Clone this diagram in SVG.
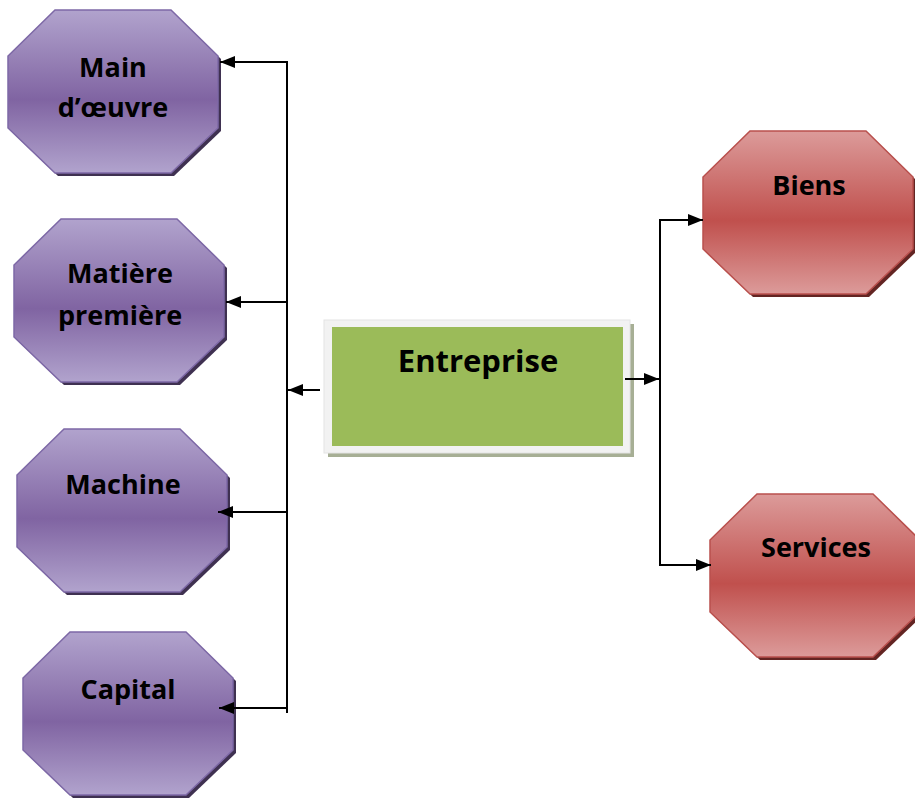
<svg xmlns="http://www.w3.org/2000/svg" width="915" height="799" viewBox="0 0 915 799">
<style>
.lbl{font-family:"Open Sans","Liberation Sans",sans-serif;font-weight:bold;font-size:27px;fill:#000;text-anchor:middle}
.big{font-size:31px}
.conn{stroke:#000;stroke-width:2;fill:none}
.purple{fill:url(#gp);stroke:#7d68a6;stroke-width:1.5}
.pshadow{fill:#3f3151}
.red{fill:url(#gr);stroke:#b9504d;stroke-width:1.5}
.rshadow{fill:#632523}
</style>
<defs>
<linearGradient id="gp" x1="0" y1="0" x2="0" y2="1">
<stop offset="0" stop-color="#b1a3cd"/>
<stop offset="0.55" stop-color="#8064a2"/>
<stop offset="1" stop-color="#b1a3cd"/>
</linearGradient>
<linearGradient id="gr" x1="0" y1="0" x2="0" y2="1">
<stop offset="0" stop-color="#dc9b9a"/>
<stop offset="0.55" stop-color="#c0504d"/>
<stop offset="1" stop-color="#dc9b9a"/>
</linearGradient>
<path id="oct" d="M47,0 H163 L210,46 V118 L163,163 H47 L0,118 V46 Z"/>
<marker id="arr" viewBox="0 0 15 12" refX="15" refY="6" markerWidth="15" markerHeight="12" markerUnits="userSpaceOnUse" orient="auto">
<path d="M0,0 L15,6 L0,12 Z" fill="#000"/>
</marker>
</defs>

<g id="main-oeuvre" transform="translate(8,10)">
<use href="#oct" class="pshadow" transform="translate(3,3)"/>
<use href="#oct" class="purple"/>
<text class="lbl" x="105" y="67">Main</text>
<text class="lbl" x="105" y="107">d’œuvre</text>
</g>

<g id="matiere-premiere" transform="translate(14,219)">
<use href="#oct" class="pshadow" transform="translate(3,3)"/>
<use href="#oct" class="purple"/>
<text class="lbl" x="106" y="64">Matière</text>
<text class="lbl" x="106" y="106">première</text>
</g>

<g id="machine" transform="translate(17,429)">
<use href="#oct" class="pshadow" transform="translate(3,3)"/>
<use href="#oct" class="purple"/>
<text class="lbl" x="106" y="65">Machine</text>
</g>

<g id="capital" transform="translate(23,632)">
<use href="#oct" class="pshadow" transform="translate(3,3)"/>
<use href="#oct" class="purple"/>
<text class="lbl" x="105" y="67">Capital</text>
</g>

<g id="entreprise">
<rect x="328" y="324" width="306" height="133" fill="#a7af95"/>
<rect x="324" y="320" width="306" height="133" fill="#f2f2f2" stroke="#e4e4e4" stroke-width="1"/>
<rect x="332" y="327" width="291" height="119" fill="#9bbb59"/>
<text class="lbl big" x="478" y="372">Entreprise</text>
</g>

<g id="biens" transform="translate(703,131)">
<use href="#oct" class="rshadow" transform="translate(3,3)"/>
<use href="#oct" class="red"/>
<text class="lbl" x="106" y="64">Biens</text>
</g>

<g id="services" transform="translate(710,494)">
<use href="#oct" class="rshadow" transform="translate(3,3)"/>
<use href="#oct" class="red"/>
<text class="lbl" x="106" y="63">Services</text>
</g>

<g id="connectors">
<line class="conn" x1="287" y1="61" x2="287" y2="713"/>
<line class="conn" x1="287" y1="62" x2="220" y2="62" marker-end="url(#arr)"/>
<line class="conn" x1="287" y1="302" x2="226" y2="302" marker-end="url(#arr)"/>
<line class="conn" x1="287" y1="512" x2="218" y2="512" marker-end="url(#arr)"/>
<line class="conn" x1="287" y1="708" x2="219" y2="708" marker-end="url(#arr)"/>
<line class="conn" x1="320" y1="390" x2="288" y2="390" marker-end="url(#arr)"/>
<line class="conn" x1="660" y1="219" x2="660" y2="566"/>
<line class="conn" x1="625" y1="379" x2="659" y2="379" marker-end="url(#arr)"/>
<line class="conn" x1="660" y1="220" x2="703" y2="220" marker-end="url(#arr)"/>
<line class="conn" x1="660" y1="565" x2="711" y2="565" marker-end="url(#arr)"/>
</g>
</svg>
